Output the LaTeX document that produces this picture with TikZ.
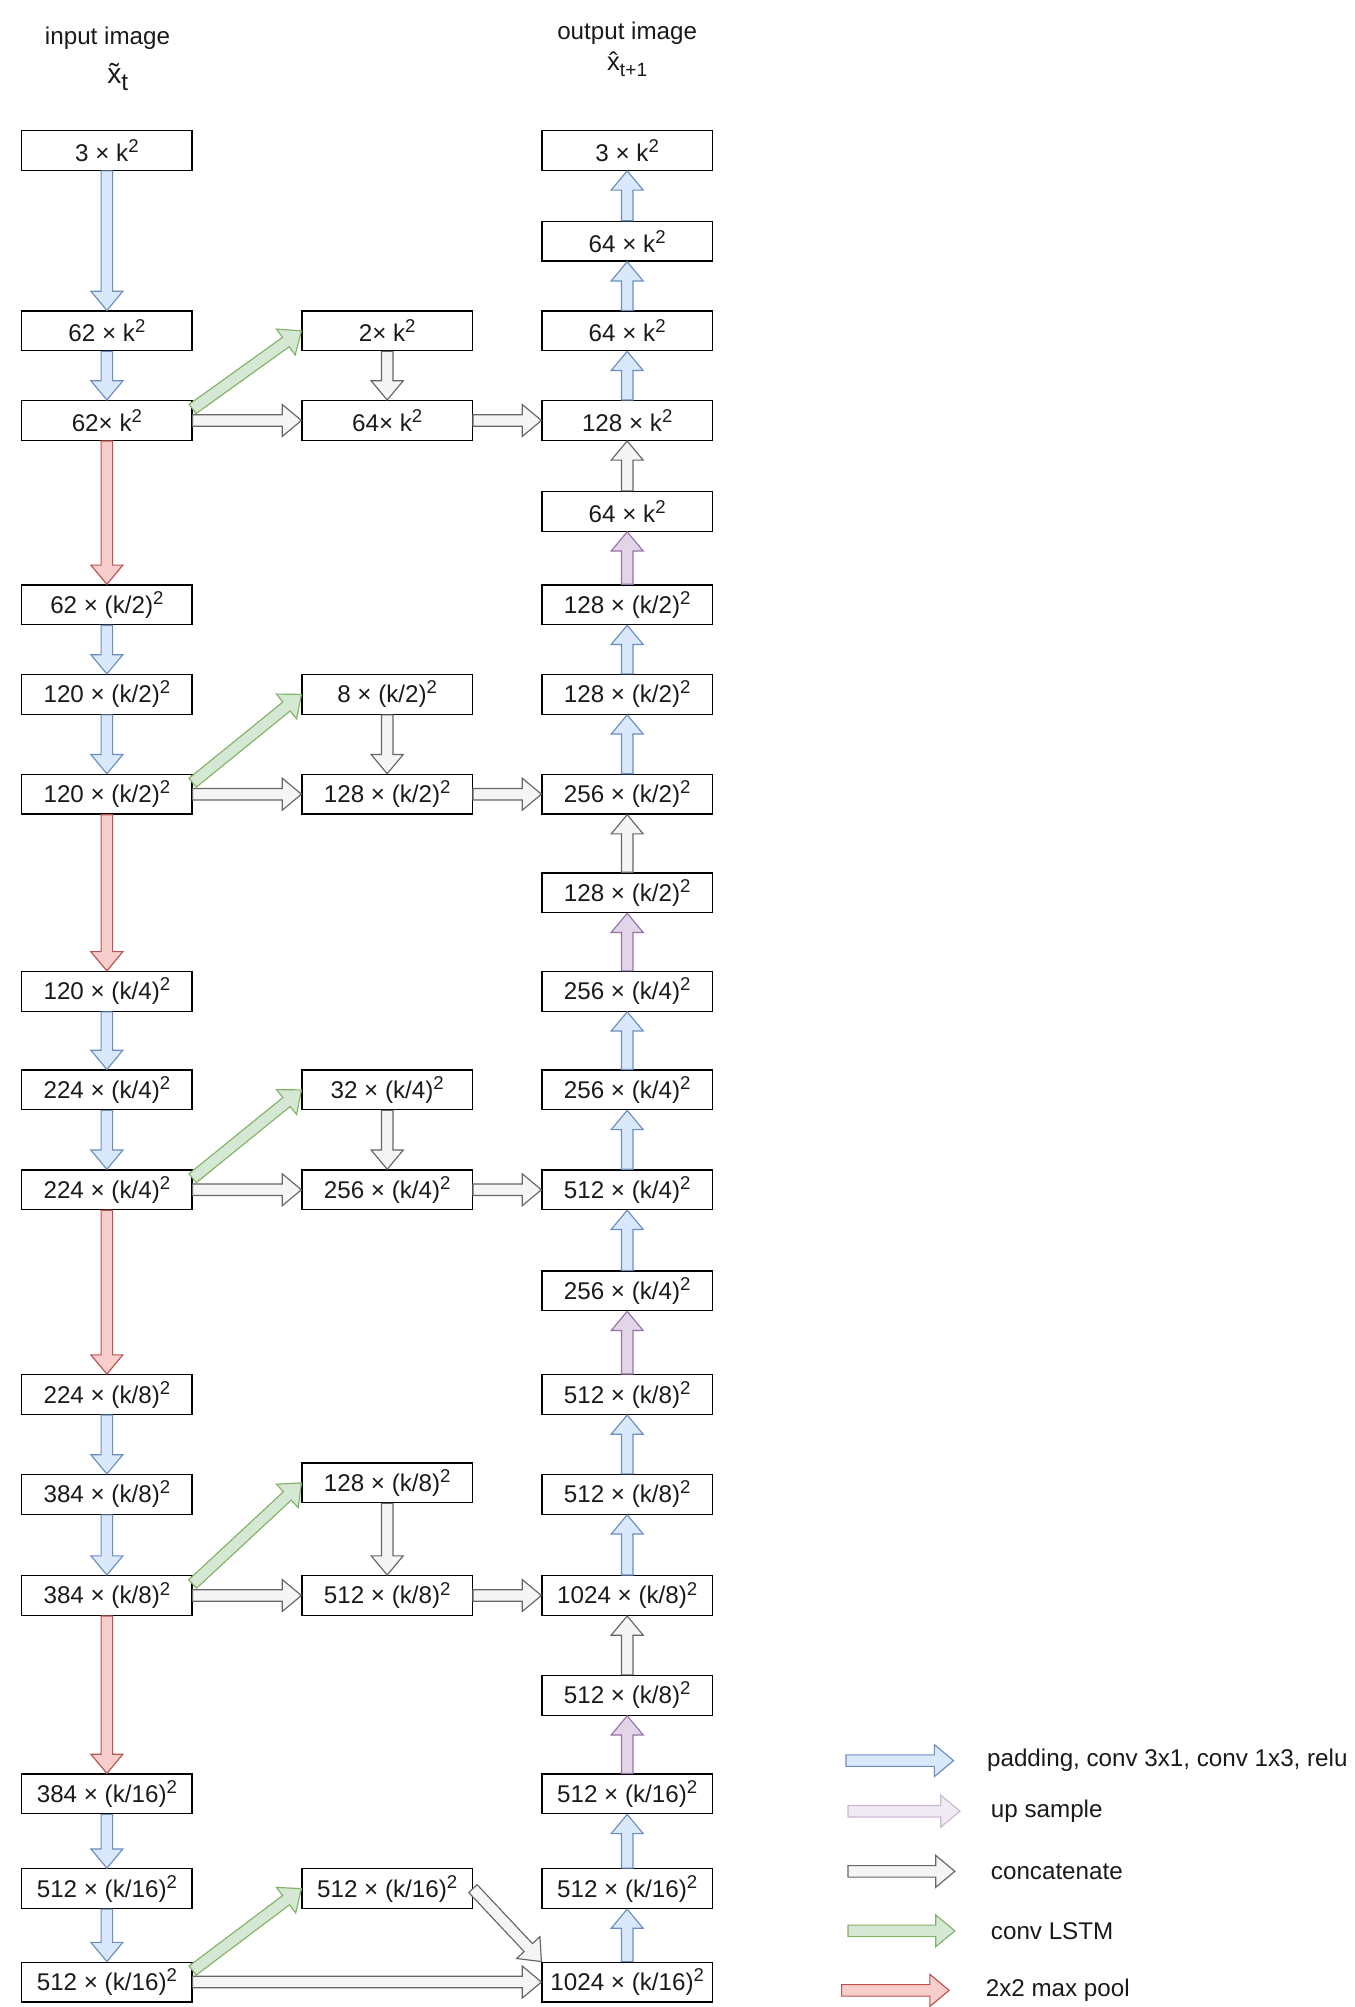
\documentclass[tikz,border=0pt]{standalone}
\usepackage{fontspec}
\setmainfont{Liberation Sans}
\usetikzlibrary{calc}
\definecolor{bluef}{HTML}{DAE8FC}\definecolor{blued}{HTML}{6C8EBF}
\definecolor{redf}{HTML}{F8CECC}\definecolor{redd}{HTML}{B85450}
\definecolor{greenf}{HTML}{D5E8D4}\definecolor{greend}{HTML}{82B366}
\definecolor{grayf}{HTML}{F5F5F5}\definecolor{grayd}{HTML}{666666}
\definecolor{purpf}{HTML}{E1D5E7}\definecolor{purpd}{HTML}{9673A6}
\definecolor{lpurpf}{HTML}{F0EAF3}\definecolor{lpurpd}{HTML}{CBB9D3}
\definecolor{txt}{HTML}{1A1A1A}
\newcommand{\sq}{\raisebox{7pt}{\fontsize{14.5}{14}\selectfont 2}}
\newcommand{\farrow}[3]{%
 \draw[#1] let \p1=(#2), \p2=(#3), \n1={atan2(\y2-\y1,\x2-\x1)}, \n2={veclen(\x2-\x1,\y2-\y1)} in
 ($(\p1)+(\n1+90:4.5pt)$) -- ($(\p1)+(\n1:\n2-15pt)+(\n1+90:4.5pt)$) -- ($(\p1)+(\n1:\n2-15pt)+(\n1+90:12.5pt)$) -- (\p2) -- ($(\p1)+(\n1:\n2-15pt)+(\n1-90:12.5pt)$) -- ($(\p1)+(\n1:\n2-15pt)+(\n1-90:4.5pt)$) -- ($(\p1)+(\n1-90:4.5pt)$) -- cycle;}
\tikzset{
 box/.style={draw=black, line width=1pt, minimum width=133pt, minimum height=31pt, inner sep=0pt, font=\fontsize{18.9}{20}\selectfont, text=txt},
 lbl/.style={font=\fontsize{18.9}{20}\selectfont, text=txt, inner sep=0pt},
 ablue/.style={fill=bluef, draw=blued, line width=0.9pt, line join=miter},
 ared/.style={fill=redf, draw=redd, line width=0.9pt, line join=miter},
 agreen/.style={fill=greenf, draw=greend, line width=0.9pt, line join=miter},
 agray/.style={fill=grayf, draw=grayd, line width=0.9pt, line join=miter},
 apurp/.style={fill=purpf, draw=purpd, line width=0.9pt, line join=miter},
 alpurp/.style={fill=lpurpf, draw=lpurpd, line width=0.9pt, line join=miter},
}
\begin{document}
\begin{tikzpicture}[x=1pt, y=-1pt]
\useasboundingbox (0,0) rectangle (1058,1568);
% headers
\node[lbl] (hin) at (84,30) {input image};
\node[lbl] (hinx) at (92,60) {{\fontsize{22}{22}\selectfont\~x}\raisebox{-5pt}{\fontsize{19}{19}\selectfont t}};
\node[lbl] (hout) at (490,26) {output image};
\node[lbl] (houtx) at (490,50) {{\fontsize{20}{20}\selectfont\^x}\raisebox{-5pt}{\fontsize{15}{15}\selectfont t+1}};
% left column
\node[box] (L1) at (83.5,117.5) {3 × k\sq};
\node[box] (L2) at (83.5,258.5) {62 × k\sq};
\node[box] (L3) at (83.5,328.5) {62× k\sq};
\node[box] (L4) at (83.5,472.5) {62 × (k/2)\sq};
\node[box] (L5) at (83.5,542.5) {120 × (k/2)\sq};
\node[box] (L6) at (83.5,620.5) {120 × (k/2)\sq};
\node[box] (L7) at (83.5,774.5) {120 × (k/4)\sq};
\node[box] (L8) at (83.5,851.5) {224 × (k/4)\sq};
\node[box] (L9) at (83.5,929.5) {224 × (k/4)\sq};
\node[box] (L10) at (83.5,1089.5) {224 × (k/8)\sq};
\node[box] (L11) at (83.5,1167.5) {384 × (k/8)\sq};
\node[box] (L12) at (83.5,1246.5) {384 × (k/8)\sq};
\node[box] (L13) at (83.5,1401.5) {384 × (k/16)\sq};
\node[box] (L14) at (83.5,1475.5) {512 × (k/16)\sq};
\node[box] (L15) at (83.5,1548.5) {512 × (k/16)\sq};
% middle column
\node[box] (M1) at (302.5,258.5) {2× k\sq};
\node[box] (M2) at (302.5,328.5) {64× k\sq};
\node[box] (M3) at (302.5,542.5) {8 × (k/2)\sq};
\node[box] (M4) at (302.5,620.5) {128 × (k/2)\sq};
\node[box] (M5) at (302.5,851.5) {32 × (k/4)\sq};
\node[box] (M6) at (302.5,929.5) {256 × (k/4)\sq};
\node[box] (M7) at (302.5,1158.5) {128 × (k/8)\sq};
\node[box] (M8) at (302.5,1246.5) {512 × (k/8)\sq};
\node[box] (M9) at (302.5,1475.5) {512 × (k/16)\sq};
% right column
\node[box] (R1) at (490,117.5) {3 × k\sq};
\node[box] (R2) at (490,188.5) {64 × k\sq};
\node[box] (R3) at (490,258.5) {64 × k\sq};
\node[box] (R4) at (490,328.5) {128 × k\sq};
\node[box] (R5) at (490,399.5) {64 × k\sq};
\node[box] (R6) at (490,472.5) {128 × (k/2)\sq};
\node[box] (R7) at (490,542.5) {128 × (k/2)\sq};
\node[box] (R8) at (490,620.5) {256 × (k/2)\sq};
\node[box] (R9) at (490,697.5) {128 × (k/2)\sq};
\node[box] (R10) at (490,774.5) {256 × (k/4)\sq};
\node[box] (R11) at (490,851.5) {256 × (k/4)\sq};
\node[box] (R12) at (490,929.5) {512 × (k/4)\sq};
\node[box] (R13) at (490,1008.5) {256 × (k/4)\sq};
\node[box] (R14) at (490,1089.5) {512 × (k/8)\sq};
\node[box] (R15) at (490,1167.5) {512 × (k/8)\sq};
\node[box] (R16) at (490,1246.5) {1024 × (k/8)\sq};
\node[box] (R17) at (490,1324.5) {512 × (k/8)\sq};
\node[box] (R18) at (490,1401.5) {512 × (k/16)\sq};
\node[box] (R19) at (490,1475.5) {512 × (k/16)\sq};
\node[box] (R20) at (490,1548.5) {1024 × (k/16)\sq};
% left column arrows
\farrow{ablue}{L1.south}{L2.north}
\farrow{ablue}{L2.south}{L3.north}
\farrow{ared}{L3.south}{L4.north}
\farrow{ablue}{L4.south}{L5.north}
\farrow{ablue}{L5.south}{L6.north}
\farrow{ared}{L6.south}{L7.north}
\farrow{ablue}{L7.south}{L8.north}
\farrow{ablue}{L8.south}{L9.north}
\farrow{ared}{L9.south}{L10.north}
\farrow{ablue}{L10.south}{L11.north}
\farrow{ablue}{L11.south}{L12.north}
\farrow{ared}{L12.south}{L13.north}
\farrow{ablue}{L13.south}{L14.north}
\farrow{ablue}{L14.south}{L15.north}
% green conv LSTM
\coordinate (g1) at ($(L3.north east)+(0,7)$);
\coordinate (g2) at ($(L6.north east)+(0,7)$);
\coordinate (g3) at ($(L9.north east)+(0,7)$);
\coordinate (g4) at ($(L12.north east)+(0,7)$);
\coordinate (g5) at ($(L15.north east)+(0,7)$);
\farrow{agreen}{g1}{M1.west}
\farrow{agreen}{g2}{M3.west}
\farrow{agreen}{g3}{M5.west}
\farrow{agreen}{g4}{M7.west}
\farrow{agreen}{g5}{M9.west}
% gray concatenation
\farrow{agray}{L3.east}{M2.west}
\farrow{agray}{M2.east}{R4.west}
\farrow{agray}{L6.east}{M4.west}
\farrow{agray}{M4.east}{R8.west}
\farrow{agray}{L9.east}{M6.west}
\farrow{agray}{M6.east}{R12.west}
\farrow{agray}{L12.east}{M8.west}
\farrow{agray}{M8.east}{R16.west}
\farrow{agray}{L15.east}{R20.west}
\farrow{agray}{M1.south}{M2.north}
\farrow{agray}{M3.south}{M4.north}
\farrow{agray}{M5.south}{M6.north}
\farrow{agray}{M7.south}{M8.north}
\farrow{agray}{M9.east}{R20.north west}
% right column arrows
\farrow{ablue}{R20.north}{R19.south}
\farrow{ablue}{R19.north}{R18.south}
\farrow{apurp}{R18.north}{R17.south}
\farrow{agray}{R17.north}{R16.south}
\farrow{ablue}{R16.north}{R15.south}
\farrow{ablue}{R15.north}{R14.south}
\farrow{apurp}{R14.north}{R13.south}
\farrow{ablue}{R13.north}{R12.south}
\farrow{ablue}{R12.north}{R11.south}
\farrow{ablue}{R11.north}{R10.south}
\farrow{apurp}{R10.north}{R9.south}
\farrow{agray}{R9.north}{R8.south}
\farrow{ablue}{R8.north}{R7.south}
\farrow{ablue}{R7.north}{R6.south}
\farrow{apurp}{R6.north}{R5.south}
\farrow{agray}{R5.north}{R4.south}
\farrow{ablue}{R4.north}{R3.south}
\farrow{ablue}{R3.north}{R2.south}
\farrow{ablue}{R2.north}{R1.south}
% legend
\coordinate (la1) at (661,1375.5); \coordinate (lb1) at (745,1375.5);
\coordinate (la2) at (662.5,1415); \coordinate (lb2) at (750,1415);
\coordinate (la3) at (662.5,1462); \coordinate (lb3) at (746,1462);
\coordinate (la4) at (662.5,1508.5); \coordinate (lb4) at (746,1508.5);
\coordinate (la5) at (657.5,1555); \coordinate (lb5) at (741.5,1555);
\farrow{ablue}{la1}{lb1}
\farrow{alpurp}{la2}{lb2}
\farrow{agray}{la3}{lb3}
\farrow{agreen}{la4}{lb4}
\farrow{ared}{la5}{lb5}
\node[lbl, anchor=west] (t1) at (771,1375.5) {padding, conv 3x1, conv 1x3, relu};
\node[lbl, anchor=west] (t2) at (774,1415) {up sample};
\node[lbl, anchor=west] (t3) at (774,1462) {concatenate};
\node[lbl, anchor=west] (t4) at (774,1508.5) {conv LSTM};
\node[lbl, anchor=west] (t5) at (770,1555) {2x2 max pool};
\end{tikzpicture}
\end{document}
